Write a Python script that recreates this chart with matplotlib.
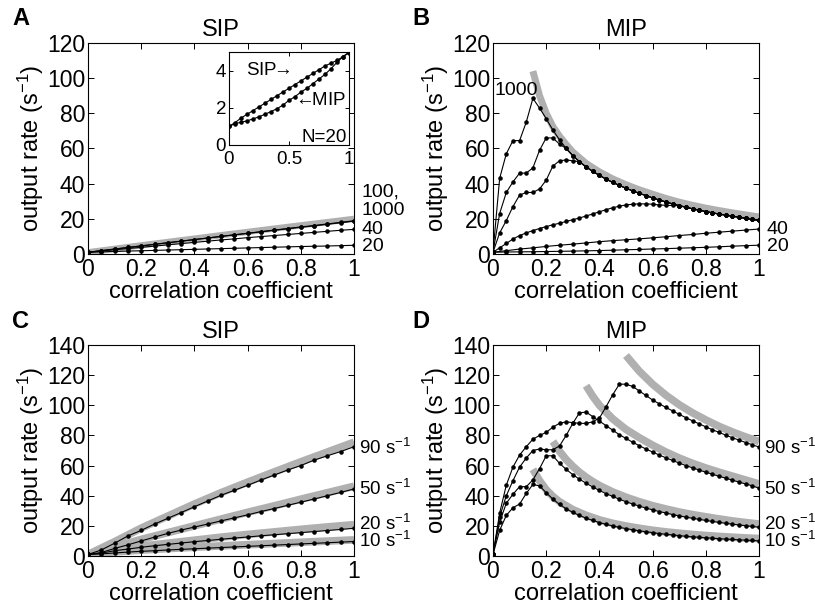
import numpy as np
import matplotlib
matplotlib.use('Agg')
import matplotlib.pyplot as plt

plt.rcParams['font.family'] = ['Liberation Sans', 'DejaVu Sans']
plt.rcParams['mathtext.default'] = 'regular'

# ---------------- data ----------------
x05 = np.linspace(0, 1, 21)     # 0.05 grid
x025 = np.linspace(0, 1, 41)    # 0.025 grid

# Panel A (SIP), N = 20, 40, 100, 1000
a_n20 = [1, 1.2, 1.45, 1.65, 1.85, 2.05, 2.25, 2.45, 2.65, 2.85, 3.05, 3.25, 3.45, 3.65, 3.85, 4.05, 4.25, 4.4, 4.55, 4.75, 4.95]
a_n40 = [1, 1.7, 2.4, 3.1, 3.8, 4.5, 5.2, 5.9, 6.6, 7.3, 8.0, 8.6, 9.3, 9.9, 10.5, 11.1, 11.7, 12.3, 12.9, 13.5, 14.0]
a_n100 = [1, 1.9, 2.8, 3.7, 4.6, 5.5, 6.4, 7.3, 8.2, 9.1, 10.0, 10.9, 11.7, 12.6, 13.5, 14.3, 15.2, 16.0, 16.9, 17.8, 18.7]
a_n1000 = [1, 1.9, 2.8, 3.7, 4.6, 5.5, 6.4, 7.3, 8.2, 9.1, 10.0, 10.9, 11.8, 12.7, 13.6, 14.5, 15.4, 16.2, 17.1, 18.0, 18.9]
a_theory_x = [0, 0.25, 0.5, 0.75, 1.0]
a_theory = [1, 5.9, 10.7, 15.4, 20]

# Inset (N = 20)
inset_sip = a_n20
inset_mip = [1, 1.15, 1.22, 1.3, 1.4, 1.52, 1.65, 1.8, 1.95, 2.15, 2.4, 2.6, 2.85, 3.05, 3.3, 3.55, 3.8, 4.1, 4.45, 4.75, 5.0]

# Panel B (MIP)
b_n20 = inset_mip
b_n40 = [1, 1.9, 2.8, 3.5, 4.3, 5.0, 5.6, 6.3, 7.0, 7.6, 8.1, 8.6, 9.2, 9.8, 10.5, 11.1, 11.8, 12.4, 13.0, 13.6, 14.2]
# common descending envelope, x = 0.2 ... 1.0 (step 0.025)
b_envelope = [77, 70.5, 65, 60, 56, 52.5, 49.5, 47, 44.7, 42.6, 40.7, 39, 37.4, 35.9, 34.5, 33.2,
              31.9, 30.7, 29.6, 28.5, 27.5, 26.6, 25.7, 24.9, 24.1, 23.4, 22.7, 22.1, 21.5, 20.9,
              20.3, 19.7, 19.1]
b_rise_1000 = [1, 43, 57, 64.5, 64.5, 75, 88.5, 83]
b_rise_500 = [1, 23, 35, 41, 46, 46, 49, 59, 66, 66, 62.5]
b_rise_200 = [1, 12, 19, 27, 33.5, 35, 35, 37, 42, 50, 53, 53.5, 53]
b_rise_100 = [1, 3.5, 6, 8.5, 10.5, 12, 13.3, 14.5, 15.6, 16.6, 17.5, 18.5, 19.5, 20.5, 21.6, 22.8,
              24, 25.2, 26.3, 27.2, 27.9, 28.3, 28.5, 28.5, 28.3, 27.9, 27.7, 27.6]
b_theory_x = [0.15, 0.175, 0.2, 0.225, 0.25, 0.275, 0.3, 0.35, 0.4, 0.45, 0.5, 0.55, 0.6, 0.65,
              0.7, 0.75, 0.8, 0.85, 0.9, 0.95, 1.0]
b_theory = [104, 90, 80, 72.5, 67, 62.3, 58, 51.5, 46.7, 42.7, 39.4, 36.5, 34, 31.6, 29.5, 27.7,
            26.1, 24.7, 23.4, 22.2, 21.1]

# Panel C (SIP), input rates 10, 20, 50, 90 s^-1
c_10 = [1, 1.4, 2, 2.6, 3.1, 3.5, 4, 4.4, 4.8, 5.2, 5.6, 6, 6.4, 6.8, 7.2, 7.6, 8, 8.4, 8.8, 9.2, 9.6]
c_20 = [1, 1.9, 3.5, 4.6, 5.8, 6.8, 7.7, 8.6, 9.5, 10.3, 11.1, 11.9, 12.6, 13.4, 14.1, 14.8, 15.5, 16.2, 16.9, 17.6, 18.4]
c_50 = [1, 2.3, 5, 7.4, 10, 12.5, 15, 17.2, 19.2, 21.2, 23.3, 25.3, 27.3, 29.5, 31.5, 33.6, 35.7, 37.8, 40, 42.2, 44.5]
c_90 = [1, 4, 8.5, 13.3, 17, 21.2, 25, 28.8, 32.7, 36.5, 40.3, 43.6, 46.9, 50.4, 53.7, 57, 60, 63.6, 66.5, 69.3, 72.5]
c_theory_x = [0, 0.1, 0.2, 0.3, 0.4, 0.5, 0.6, 0.7, 0.8, 0.9, 1.0]
c_th10 = [1, 2.8, 3.9, 4.9, 5.8, 6.7, 7.5, 8.3, 9.1, 9.9, 10.7]
c_th20 = [1, 4, 6.5, 8.5, 10.5, 12.5, 14.3, 16, 17.7, 19.3, 20.8]
c_th50 = [1, 6, 11, 15.5, 20, 24.5, 29, 33.3, 37.7, 42, 46.3]
c_th90 = [1, 9.5, 18.5, 26.5, 34.5, 42, 49, 55.8, 62.5, 69, 75.5]

# Panel D (MIP)
d_10 = [1, 17, 27, 32, 34.5, 41.5, 47.5, 46.5, 42, 37.8, 34.3, 31.3, 29, 26.9, 25.1, 23.6, 22.2, 21, 20, 19,
        18.2, 17.4, 16.7, 16.1, 15.5, 14.9, 14.4, 14, 13.5, 13.1, 12.7, 12.4, 12.1, 11.8, 11.5, 11.2, 11,
        10.7, 10.5, 10.3, 10]
d_20 = [1, 22.5, 35, 41, 46, 46, 50.5, 58, 66.5, 66.5, 61.5, 57.5, 54, 51, 48.3, 45.8, 43.5, 41.4, 39.5,
        37.7, 36, 34.5, 33.1, 31.8, 30.6, 29.5, 28.5, 27.5, 26.6, 25.8, 25, 24.3, 23.6, 22.9, 22.3, 21.7,
        21.1, 20.6, 20.1, 19.6, 19.1]
d_50 = [1, 26, 40, 50, 59, 65, 70, 71, 70.5, 70.5, 73, 80, 88, 95, 95.5, 92.5, 89.5, 86.5, 83.5, 80.5, 78,
        75.5, 73.2, 71, 69, 67, 65.2, 63.4, 61.7, 60, 58.5, 57, 55.6, 54.2, 52.9, 51.6, 50.3, 49, 47.8,
        46.5, 45]
d_90 = [1, 28.5, 47, 59, 67, 72.5, 77.5, 80, 82, 85.5, 88, 89, 88.5, 88, 88, 89, 91.5, 99, 107, 114, 114,
        112.5, 109.5, 106.5, 103.5, 101, 98.6, 96.3, 94, 91.8, 89.7, 87.7, 85.7, 83.8, 82, 80.2, 78.5,
        76.9, 75.3, 73.8, 72.3]
d_th10_x = [0.15, 0.175, 0.2, 0.225, 0.25, 0.3, 0.35, 0.4, 0.45, 0.5, 0.55, 0.6, 0.65, 0.7, 0.75, 0.8, 0.85, 0.9, 0.95, 1.0]
d_th10 = [57.5, 50, 44, 39.5, 36, 30.8, 27, 24, 21.7, 19.9, 18.4, 17.1, 16, 15.1, 14.3, 13.6, 13, 12.5, 12, 11.6]
d_th20_x = [0.225, 0.25, 0.275, 0.3, 0.325, 0.35, 0.375, 0.4, 0.45, 0.5, 0.55, 0.6, 0.65, 0.7, 0.75, 0.8, 0.85, 0.9, 0.95, 1.0]
d_th20 = [76, 69.5, 64, 59.5, 55.6, 52.3, 49.4, 46.8, 42.5, 39, 36, 33.4, 31.2, 29.2, 27.5, 26, 24.6, 23.3, 22.2, 21.2]
d_th50_x = [0.35, 0.375, 0.4, 0.45, 0.5, 0.55, 0.6, 0.65, 0.7, 0.75, 0.8, 0.85, 0.9, 0.95, 1.0]
d_th50 = [113, 106, 100, 91, 84, 78.5, 73.5, 69, 65, 61.5, 58.4, 55.6, 53, 50.4, 47.8]
d_th90_x = [0.5, 0.55, 0.6, 0.65, 0.7, 0.75, 0.8, 0.85, 0.9, 0.95, 1.0]
d_th90 = [133, 122.6, 114, 106.7, 100.4, 95, 90.3, 86, 82.3, 79, 76]

xticks = [0, 0.2, 0.4, 0.6, 0.8, 1]
xticklabels = ['0', '0.2', '0.4', '0.6', '0.8', '1']

# ---------------- styles ----------------
GRAY = '#b0b0b0'
BLK = dict(color='black', lw=0.8, marker='.', ms=4.5, zorder=3)
TICK_FS = 16.5
LAB_FS = 17
ANN_FS = 14
RATE_FS = 13.5


def gray(ax, x, y, lw=5):
    ax.plot(x, y, color=GRAY, lw=lw, solid_capstyle='butt', solid_joinstyle='round', zorder=2)


def style(ax, ymax, title):
    ax.set_xlim(0, 1)
    ax.set_ylim(0, ymax)
    ax.set_xticks(xticks)
    ax.set_xticklabels(xticklabels)
    ax.set_yticks(np.arange(0, ymax + 1, 20))
    ax.tick_params(direction='in', length=4, width=0.7, top=True, right=True,
                   labelsize=TICK_FS)
    ax.tick_params(axis='x', pad=3)
    ax.tick_params(axis='y', pad=2)
    for s in ax.spines.values():
        s.set_linewidth(0.8)
    ax.set_xlabel('correlation coefficient', fontsize=LAB_FS, labelpad=0)
    ax.set_ylabel('output rate (s$^{-1}$)', fontsize=LAB_FS, labelpad=1)
    ax.set_title(title, fontsize=LAB_FS, pad=5)


fig = plt.figure(figsize=(8.15, 6.11), dpi=100)
W, H = 815, 611


def add_axes(l, t, r, b):
    return fig.add_axes([l / W, 1 - b / H, (r - l) / W, (b - t) / H])


axA = add_axes(88, 43, 354, 254)
axB = add_axes(493, 43, 759, 254)
axC = add_axes(88, 345, 354, 556)
axD = add_axes(493, 345, 759, 556)

# ---- Panel A ----
gray(axA, a_theory_x, a_theory, lw=4.5)
for y in (a_n20, a_n40, a_n100, a_n1000):
    axA.plot(x05, y, **BLK)
style(axA, 120, 'SIP')
axA.text(1.03, 35, '100,', fontsize=ANN_FS, va='center', ha='left', clip_on=False)
axA.text(1.03, 24.5, '1000', fontsize=ANN_FS, va='center', ha='left', clip_on=False)
axA.text(1.03, 14, '40', fontsize=ANN_FS, va='center', ha='left', clip_on=False)
axA.text(1.03, 4.2, '20', fontsize=ANN_FS, va='center', ha='left', clip_on=False)

# inset
axI = add_axes(229, 52, 349, 145)
axI.plot(x05, inset_sip, **BLK)
axI.plot(x05, inset_mip, **BLK)
axI.set_xlim(0, 1)
axI.set_ylim(0, 5)
axI.set_xticks([0, 0.5, 1])
axI.set_xticklabels(['0', '0.5', '1'])
axI.set_yticks([0, 2, 4])
axI.tick_params(direction='in', length=3, width=0.7, top=True, right=True, labelsize=13.5)
axI.tick_params(axis='x', pad=4)
axI.tick_params(axis='y', pad=2)
for s in axI.spines.values():
    s.set_linewidth(0.8)
axI.text(0.14, 4.0, 'SIP$\\!\\!\\rightarrow$', fontsize=13.5, va='center', ha='left')
axI.text(0.98, 2.4, '$\\leftarrow\\!\\!$MIP', fontsize=13.5, va='center', ha='right')
axI.text(0.98, 0.42, 'N=20', fontsize=13.5, va='center', ha='right')

# ---- Panel B ----
gray(axB, b_theory_x, b_theory, lw=5)
i_env = 8
for rise in (b_rise_1000, b_rise_500, b_rise_200, b_rise_100):
    n = len(rise)
    y = list(rise) + b_envelope[n - i_env:]
    axB.plot(x025, y, **BLK)
axB.plot(x05, b_n40, **BLK)
axB.plot(x05, b_n20, **BLK)
style(axB, 120, 'MIP')
axB.text(0.005, 93, '1000', fontsize=ANN_FS, va='center', ha='left')
axB.text(1.03, 14, '40', fontsize=ANN_FS, va='center', ha='left', clip_on=False)
axB.text(1.03, 4.2, '20', fontsize=ANN_FS, va='center', ha='left', clip_on=False)

# ---- Panel C ----
for th in (c_th10, c_th20, c_th50, c_th90):
    gray(axC, c_theory_x, th, lw=5.5)
for y in (c_10, c_20, c_50, c_90):
    axC.plot(x05, y, **BLK)
style(axC, 140, 'SIP')

# ---- Panel D ----
gray(axD, d_th10_x, d_th10, lw=5.5)
gray(axD, d_th20_x, d_th20, lw=5.5)
gray(axD, d_th50_x, d_th50, lw=5.5)
gray(axD, d_th90_x, d_th90, lw=5.5)
for y in (d_10, d_20, d_50, d_90):
    axD.plot(x025, y, **BLK)
style(axD, 140, 'MIP')

rate_labels = ['90 s$^{-1}$', '50 s$^{-1}$', '20 s$^{-1}$', '10 s$^{-1}$']
rate_pos = [72, 44.5, 21.5, 10]
for ax in (axC, axD):
    for lab, yy in zip(rate_labels, rate_pos):
        ax.text(1.018, yy, lab, fontsize=RATE_FS, va='center', ha='left', clip_on=False)

# panel letters
for lab, (px, py) in zip('ABCD', [(12, 7), (412, 7), (12, 310), (412, 310)]):
    fig.text(px / W, 1 - py / H, lab, fontsize=17, fontweight='bold', va='top', ha='left')

fig.savefig('out.png', dpi=100)
